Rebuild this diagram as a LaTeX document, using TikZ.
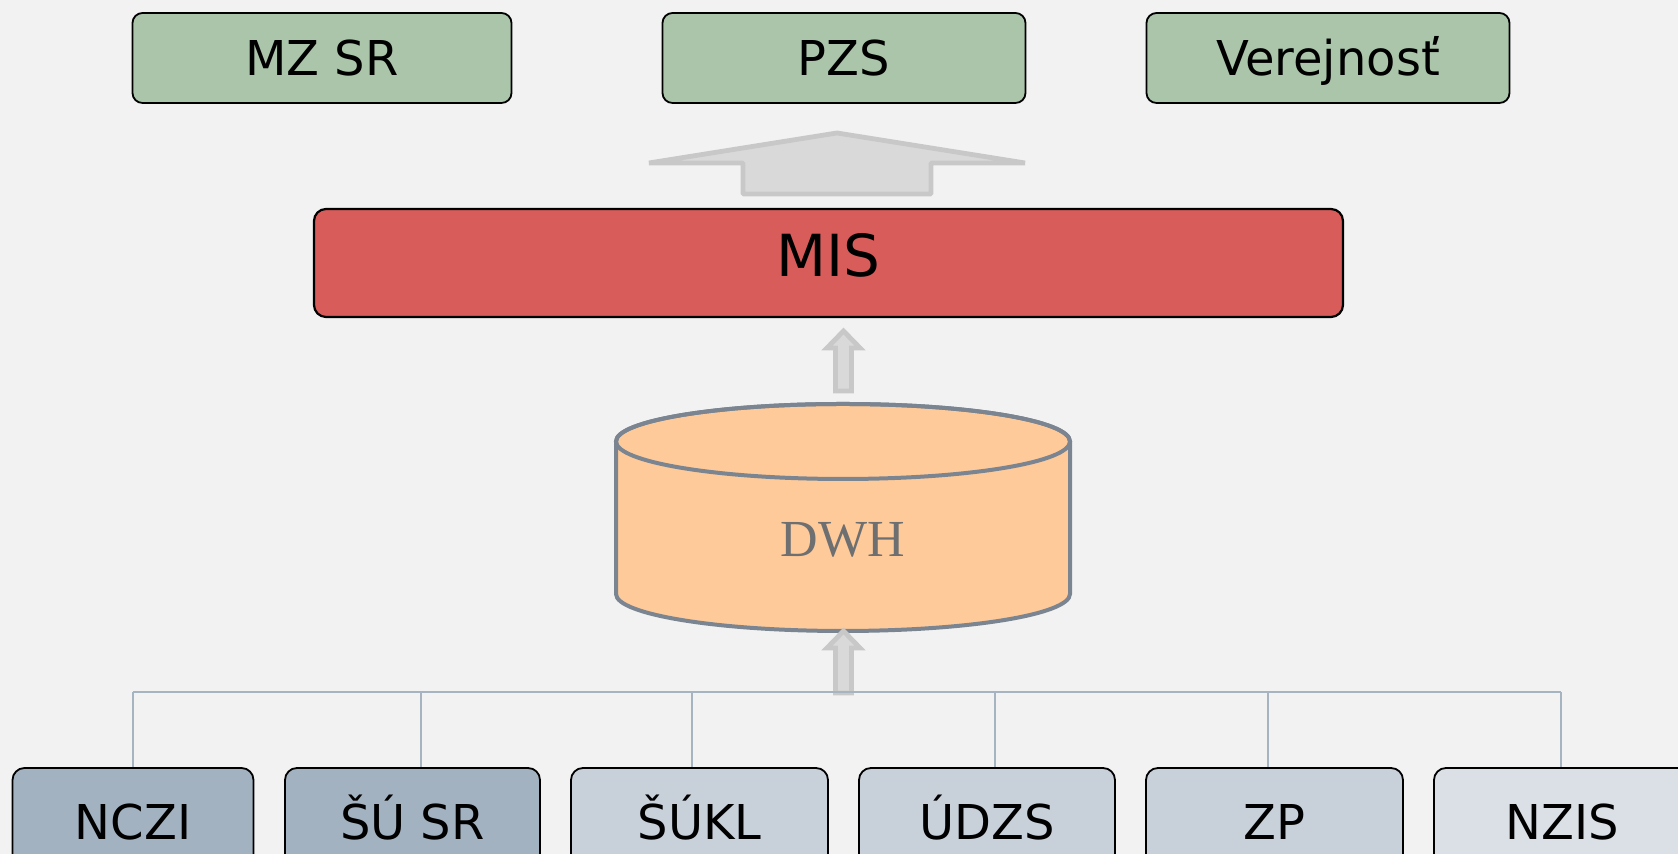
\documentclass[tikz,border=0pt]{standalone}
\usepackage{fontspec}
\setmainfont{DejaVu Sans}
\newfontfamily\dwhfont{Liberation Serif}
\definecolor{bgcolor}{HTML}{F2F2F2}
\definecolor{targetgreen}{HTML}{ABC5AA}
\definecolor{misred}{HTML}{D75C5A}
\definecolor{dbfill}{HTML}{FFCA99}
\definecolor{dbline}{HTML}{7A8591}
\definecolor{dbtext}{HTML}{6E6F71}
\definecolor{arrowfill}{HTML}{D9D9D9}
\definecolor{arrowline}{HTML}{C8C8C8}
\definecolor{busline}{HTML}{A6B4C2}
\definecolor{srcdark}{HTML}{A3B2C1}
\definecolor{srcmid}{HTML}{C8D0DA}
\definecolor{srclight}{HTML}{DBE0E6}
\begin{document}
\begin{tikzpicture}[x=1pt, y=1pt, >=latex]
      \tikzset{
  target/.style={
    rectangle,
    rounded corners=5pt,
    draw=black,
    line width=0.9pt,
    fill=targetgreen,
    inner sep=0pt,
    minimum height=45pt,
    font=\fontsize{24}{28}\selectfont,
    text height=17.5pt,
    text depth=0pt
  },
  mis/.style={
    rectangle,
    rounded corners=6pt,
    draw=black,
    line width=1.1pt,
    fill=misred,
    inner sep=0pt,
    minimum width=514.5pt,
    minimum height=54pt,
    font=\fontsize{29}{34}\selectfont,
    text height=21pt,
    text depth=7pt
  },
  source/.style={
    rectangle,
    rounded corners=6pt,
    draw=black,
    line width=0.9pt,
    inner sep=0pt,
    minimum height=54pt,
    font=\fontsize{24}{28}\selectfont,
    text height=17.5pt,
    text depth=0pt
  },
  db/.style={
    draw=dbline,
    fill=dbfill,
    line width=2pt
  },
  blockarrow/.style={
    draw=arrowline,
    fill=arrowfill,
    line width=2.4pt,
    line join=bevel
  },
  bus/.style={
    draw=busline,
    line width=1pt
  }
}

\useasboundingbox[fill=bgcolor] (0,0) rectangle (839,427);

\foreach \t/\x/\w [count=\i] in {MZ SR/161/189.5, PZS/422/181.5, Verejnosť/664/181.5}
  \node [target, minimum width=\w pt] (target-\i) at (\x,398) {\t};

% wide arrow MIS -> targets
\draw [blockarrow] (324.5,345.5) -- (418.5,360.5) -- (512.5,345.5) -- (465.5,345.5)
  -- (465.5,330) -- (371.5,330) -- (371.5,345.5) -- cycle;

\node [mis] (mis) at (414.25,295.5) {MIS};

% data warehouse
\path [db] (308,206.25) -- (308,130)
  arc [start angle=180, end angle=360, x radius=113.5, y radius=18.5]
  -- (535,206.25)
  arc [start angle=0, end angle=180, x radius=113.5, y radius=18.75] -- cycle;
\draw [db, fill=none] (421.5,206.25) ellipse [x radius=113.5, y radius=18.75];
\node [font=\dwhfont\fontsize{26}{30}\selectfont, text=dbtext, text height=17pt, text depth=0pt] (dwh) at (421.5,157) {DWH};

% small arrows
\foreach \tipy/\basey in {261.5/231.5, 111.5/80.5}
  \draw [blockarrow, line join=miter] (421.75,\tipy) -- (430,\tipy-8.5) -- (425.75,\tipy-8.5) -- (425.75,\basey)
    -- (417.75,\basey) -- (417.75,\tipy-8.5) -- (413.5,\tipy-8.5) -- cycle;

\foreach \t/\x/\w/\c [count=\i] in {NCZI/66.5/120.5/srcdark, ŠÚ SR/206.25/127.5/srcdark,
    ŠÚKL/349.75/128.5/srcmid, ÚDZS/493.5/128/srcmid, ZP/637.25/128.5/srcmid, NZIS/781/128/srclight}
  \node [source, fill=\c, minimum width=\w pt] (source-\i) at (\x,16) {\t};

\coordinate (bus) at (421.75,81);
\draw [bus] (source-1.north |- bus) -- ([xshift=-0.5pt]source-6.north |- bus);
\foreach \dx [count=\i] in {0,4,-4,4,-3.5,-0.5}
  \draw [bus] ([xshift=\dx pt]source-\i.north) -- ([xshift=\dx pt]source-\i.north |- bus);
    \end{tikzpicture}
\end{document}
